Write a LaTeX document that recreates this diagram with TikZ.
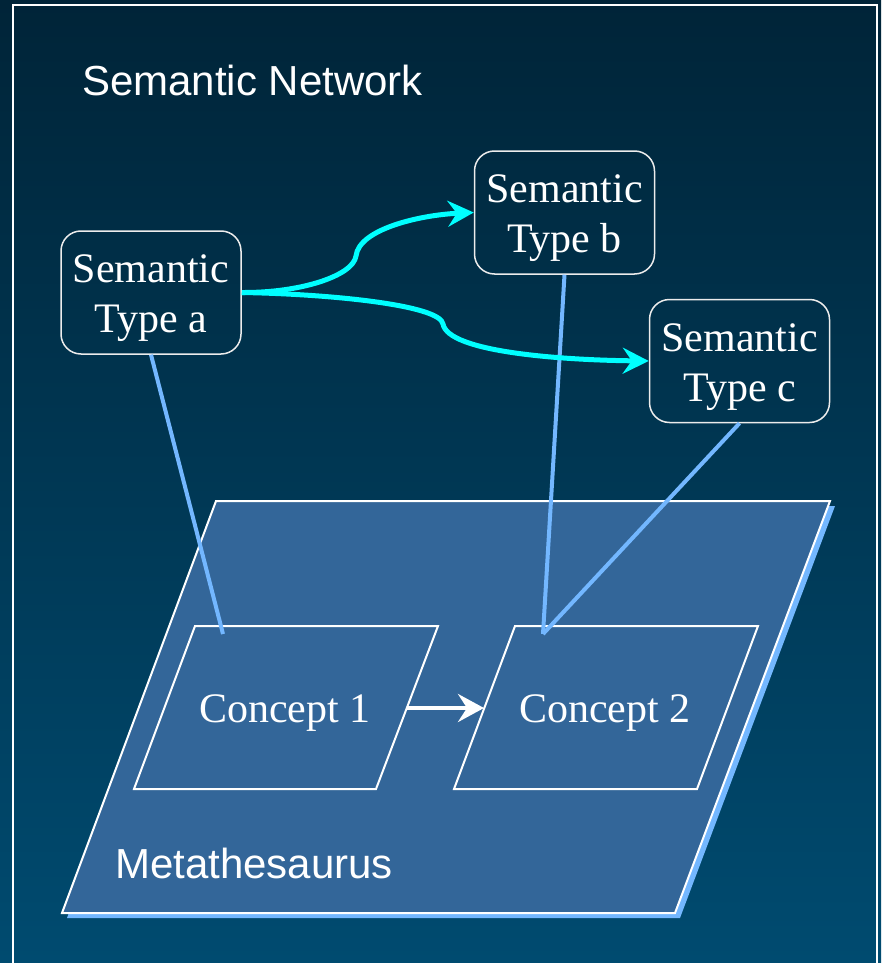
\documentclass[tikz,border=0pt]{standalone}
\usepackage{fontspec}
\setmainfont{Liberation Serif}
\newfontfamily\layersans{Liberation Sans}
\usetikzlibrary{arrows.meta}
\definecolor{bgtop}{RGB}{0,36,56}
\definecolor{bgbottom}{RGB}{0,75,112}
\definecolor{layerblue}{RGB}{51,102,153}
\definecolor{linkblue}{RGB}{115,183,255}
\definecolor{flowcyan}{RGB}{0,255,255}
\begin{document}
\begin{tikzpicture}[x=1pt,y=-1pt,
  typebox/.style={draw=white!85!gray,line width=1.5pt,rounded corners=20pt,
    minimum width=180pt,minimum height=123pt,inner sep=0pt,align=center,
    text=white,font=\fontsize{42}{50}\selectfont},
  flow/.style={draw=flowcyan,line width=5pt,
    -{Stealth[length=26pt,width=26pt,inset=9pt]}},
  link/.style={draw=linkblue,line width=4pt},
  sanslabel/.style={anchor=base west,inner sep=0pt,text=white,
    font=\layersans\fontsize{42}{48}\selectfont},
  conceptlabel/.style={text=white,anchor=base,inner sep=0pt,
    font=\fontsize{42}{50}\selectfont}]
  %background
  \useasboundingbox (0,0) rectangle (881,963);
  \shade[top color=bgtop,bottom color=bgbottom] (0,0) rectangle (881,963);
  \draw[white,line width=2pt] (13,975) -- (13,5) -- (877,5) -- (877,975);

  %titles
  \node[sanslabel] (title) at (82,96) {Semantic Network};

  %metathesaurus layer
  \fill[linkblue] (221,506) -- (835,506) -- (680,918) -- (67,918) -- cycle;
  \draw[fill=layerblue,draw=white,line width=2pt] (216,501) -- (830,501) -- (675,913) -- (62,913) -- cycle;
  \node[sanslabel] (meta) at (115,878) {Metathesaurus};

  %concepts
  \draw[white,line width=2pt] (195,626) -- (438,626) -- (376,789) -- (134,789) -- cycle;
  \draw[white,line width=2pt] (515,626) -- (758,626) -- (697,789) -- (454,789) -- cycle;
  \node[conceptlabel] (c1) at (285,722) {Concept 1};
  \node[conceptlabel] (c2) at (605,722) {Concept 2};
  \coordinate (c1 right) at (407,708);
  \coordinate (c2 left) at (484,708);
  \coordinate (c1 top) at (223,634);
  \coordinate (c2 top) at (543,634);
  \draw[white,line width=4pt,-{Stealth[length=26pt,width=28pt,inset=9pt]}] (c1 right) -- (c2 left);

  %semantic types
  \node[typebox] (a) at (151,292.5) {\rule{0pt}{40pt}Semantic\\Type a};
  \node[typebox] (b) at (564.5,212.5) {\rule{0pt}{40pt}Semantic\\Type b};
  \node[typebox] (c) at (739.5,361) {\rule{0pt}{40pt}Semantic\\Type c};

  %links to concepts
  \draw[link] (a.south) -- (c1 top);
  \draw[link] (b.south) -- (c2 top);
  \draw[link] (c.south) -- (c2 top);

  %relations between types
  \draw[flow] (a.east) .. controls (300,293) and (353,276) .. (356,256)
    .. controls (359,229) and (420,215) .. (b.west);
  \draw[flow] (a.east) .. controls (330,294) and (440,305) .. (443,324)
    .. controls (448,352) and (560,360) .. (c.west);
\end{tikzpicture}
\end{document}
